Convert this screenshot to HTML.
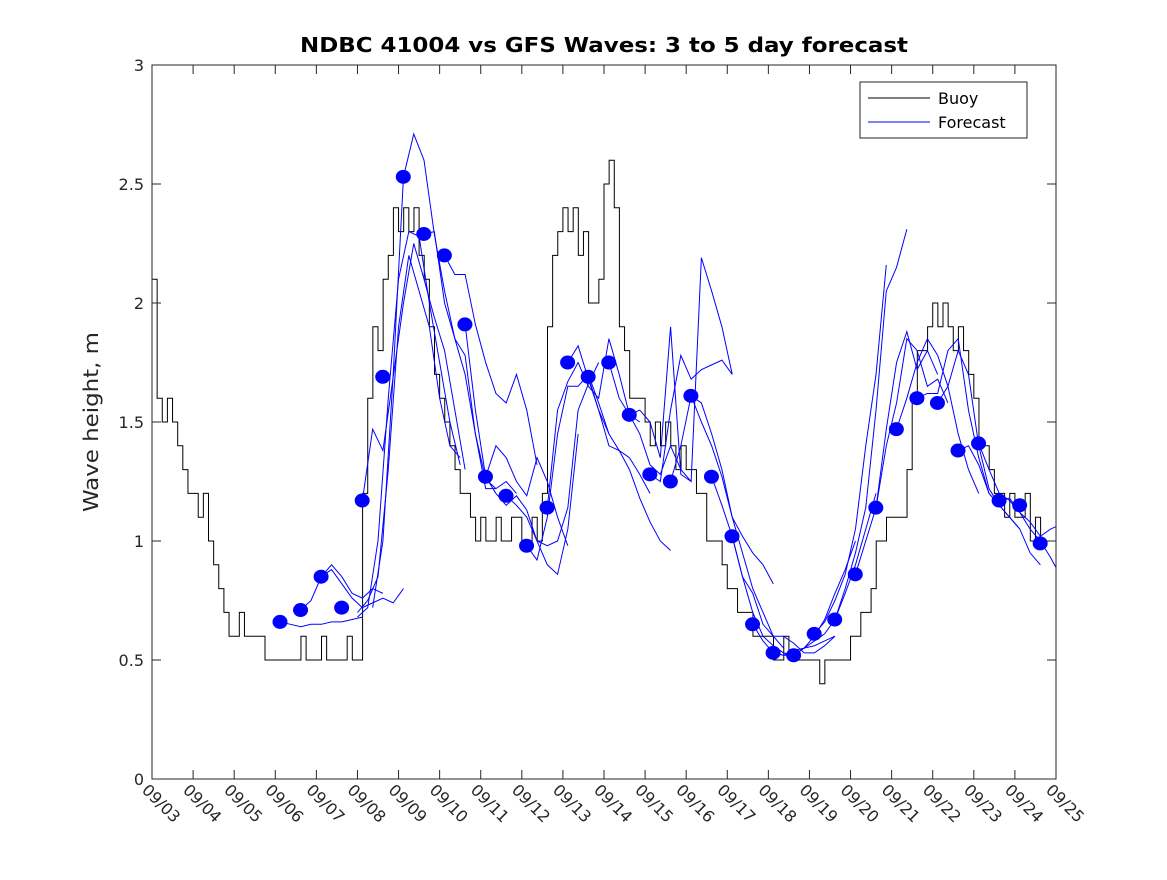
<!DOCTYPE html>
<html><head><meta charset="utf-8"><style>
body{margin:0;background:#fff;}
svg text{font-family:"DejaVu Sans","Liberation Sans",sans-serif;}
</style></head><body>
<svg id="chart" width="1167" height="875" xmlns="http://www.w3.org/2000/svg">
<rect width="1167" height="875" fill="#fff"/>
<text x="300" y="52" font-size="20" font-weight="bold" textLength="608" lengthAdjust="spacingAndGlyphs">NDBC 41004 vs GFS Waves: 3 to 5 day forecast</text>
<text transform="translate(98,422) rotate(-90)" text-anchor="middle" font-size="20" fill="#262626" textLength="180" lengthAdjust="spacingAndGlyphs">Wave height, m</text>
<defs><clipPath id="clip"><rect x="152" y="65" width="904" height="714"/></clipPath></defs>
<g id="marks" clip-path="url(#clip)"></g>
<rect x="152" y="65" width="904" height="714" fill="none" stroke="#262626" stroke-width="1"/>
<g id="axes"></g>
<g>
<rect x="860" y="82" width="167" height="56" fill="#fff" stroke="#262626"/>
<line x1="868" y1="98" x2="930" y2="98" stroke="#000"/>
<text x="938" y="104" font-size="16">Buoy</text>
<line x1="868" y1="122" x2="930" y2="122" stroke="#00f"/>
<text x="938" y="128" font-size="16">Forecast</text>
</g>
</svg>
<script>
const xTickLabels=["09/03","09/04","09/05","09/06","09/07","09/08","09/09","09/10","09/11","09/12","09/13","09/14","09/15","09/16","09/17","09/18","09/19","09/20","09/21","09/22","09/23","09/24","09/25"];
const yTicks=[0,0.5,1,1.5,2,2.5,3];
const yTickLabels=["0","0.5","1","1.5","2","2.5","3"];
// buoy values every 3h from 09/03 00:00
const buoy=[
2.1,1.6,1.5,1.6,1.5,1.4,1.3,1.2,
1.2,1.1,1.2,1.0,0.9,0.8,0.7,0.6,
0.6,0.7,0.6,0.6,0.6,0.6,0.5,0.5,
0.5,0.5,0.5,0.5,0.5,0.6,0.5,0.5,
0.5,0.6,0.5,0.5,0.5,0.5,0.6,0.5,
0.5,1.2,1.6,1.9,1.8,2.1,2.2,2.4,
2.3,2.4,2.3,2.4,2.2,2.1,1.9,1.7,
1.6,1.5,1.4,1.3,1.2,1.2,1.1,1.0,
1.1,1.0,1.0,1.1,1.0,1.0,1.1,1.1,
1.0,1.0,1.1,1.0,1.2,1.9,2.2,2.3,
2.4,2.3,2.4,2.2,2.3,2.0,2.0,2.1,
2.5,2.6,2.4,1.9,1.8,1.6,1.6,1.6,
1.5,1.4,1.5,1.4,1.5,1.4,1.3,1.4,
1.3,1.3,1.2,1.2,1.0,1.0,1.0,0.9,
0.8,0.8,0.7,0.7,0.7,0.6,0.6,0.6,
0.6,0.5,0.5,0.6,0.5,0.5,0.5,0.5,
0.5,0.5,0.4,0.5,0.5,0.5,0.5,0.5,
0.6,0.6,0.7,0.7,0.8,1.0,1.0,1.1,
1.1,1.1,1.1,1.3,1.6,1.8,1.8,1.9,
2.0,1.9,2.0,1.9,1.8,1.9,1.8,1.7,
1.6,1.4,1.4,1.3,1.2,1.2,1.1,1.2,
1.1,1.1,1.2,1.0,1.1,1.0,1.0,1.0,
1.0];
const dotDayStart=3.115;
const dotValues=[0.66,0.71,0.85,0.72,1.17,1.69,2.53,2.29,2.20,1.91,1.27,1.19,0.98,1.14,1.75,1.69,1.75,1.53,1.28,1.25,1.61,1.27,1.02,0.65,0.53,0.52,0.61,0.67,0.86,1.14,1.47,1.60,1.58,1.38,1.41,1.17,1.15,0.99];
const fcStart=[3.12,3.62,4.12,5.0,5.12,5.0,5.37,6.62,7.12,7.62,8.12,8.62,9.12,9.62,10.12,10.62,11.12,11.62,12.12,12.62,13.12,13.62,14.12,14.62,15.12,15.62,16.12,16.62,17.12,17.62,18.12,18.62,19.12,19.62,20.12,20.62];
const fcValues=[
[0.66,0.65,0.64,0.65,0.65,0.66,0.66,0.67,0.68],
[0.71,0.75,0.85,0.90,0.85,0.78,0.76,0.80,0.78],
[0.85,0.88,0.82,0.76,0.72,0.74,0.76,0.74,0.80],
[0.68,0.72,1.0,1.6,2.1,2.3,2.28,2.0,1.75,1.5,1.32],
[1.17,1.47,1.38,1.69,2.00,2.25,2.10,1.94,1.80,1.55,1.30],
[0.70,0.75,0.85,1.3,1.9,2.2,2.05,1.9,1.6,1.40,1.35],
[0.72,1.0,1.7,2.53,2.71,2.6,2.29,2.05,1.85,1.7,1.45,1.26,1.22],
[2.29,2.30,2.00,1.85,1.78,1.45,1.22,1.22,1.25,1.20],
[2.20,2.12,2.12,1.91,1.75,1.62,1.58,1.70,1.55,1.32],
[1.91,1.55,1.27,1.40,1.35,1.25,1.19,1.35,1.25,1.1,0.98],
[1.27,1.20,1.15,1.19,1.13,1.00,0.90,0.86,1.05,1.45],
[1.19,1.15,1.10,1.00,0.98,1.0,1.14,1.55,1.66,1.75],
[0.98,0.92,1.10,1.45,1.65,1.65,1.70,1.58,1.45],
[1.14,1.55,1.67,1.75,1.65,1.60,1.85,1.70,1.53,1.50],
[1.75,1.82,1.68,1.55,1.40,1.38,1.35,1.28,1.20],
[1.69,1.55,1.45,1.38,1.30,1.18,1.08,1.00,0.96],
[1.75,1.60,1.53,1.55,1.50,1.35,1.90,1.28,1.25],
[1.53,1.45,1.32,1.28,1.40,1.30,1.25,2.19,2.05,1.90,1.70],
[1.28,1.25,1.55,1.78,1.68,1.72,1.74,1.76,1.70],
[1.25,1.40,1.61,1.58,1.45,1.30,1.10,1.02,0.95,0.90,0.82],
[1.61,1.50,1.40,1.27,1.10,0.95,0.80,0.70,0.60,0.55],
[1.27,1.15,1.02,0.85,0.70,0.60,0.56,0.53,0.52],
[1.02,0.85,0.78,0.65,0.60,0.60,0.57,0.53,0.53,0.56,0.60],
[0.65,0.58,0.53,0.52,0.54,0.55,0.56,0.58,0.60],
[0.53,0.52,0.52,0.55,0.60,0.67,0.78,0.88,1.0],
[0.52,0.55,0.58,0.61,0.67,0.78,0.90,1.05,1.20],
[0.61,0.66,0.75,0.86,1.05,1.40,1.70,2.16],
[0.67,0.80,0.95,1.14,1.55,2.05,2.15,2.31],
[0.86,1.0,1.14,1.47,1.75,1.88,1.72,1.80,1.70],
[1.14,1.40,1.58,1.85,1.80,1.65,1.68,1.58],
[1.47,1.60,1.75,1.85,1.78,1.65,1.45,1.30,1.20],
[1.60,1.62,1.62,1.80,1.85,1.55,1.35,1.20,1.15],
[1.58,1.65,1.80,1.70,1.40,1.22,1.15,1.10,1.05],
[1.38,1.40,1.32,1.20,1.15,1.10,1.05,0.95,0.90],
[1.41,1.30,1.20,1.17,1.12,1.05,1.00,0.93,0.85],
[1.17,1.18,1.12,1.08,1.02,1.05,1.07,1.02,1.0]
];
const X0=152,X1=1056,Y0=779,Y1=65,DAYS=22,YMAX=3,BSTEP=0.125;
function xs(d){return X0+(X1-X0)*d/DAYS;}
function ys(v){return Y0-(Y0-Y1)*v/YMAX;}
const NS="http://www.w3.org/2000/svg";
const marks=document.getElementById('marks'),axes=document.getElementById('axes');
function mk(tag,attrs,parent){const e=document.createElementNS(NS,tag);for(const k in attrs)e.setAttribute(k,attrs[k]);parent.appendChild(e);return e;}
xTickLabels.forEach((t,i)=>{const x=xs(i);
 const a=mk('line',{x1:x,y1:Y0,x2:x,y2:Y0-9,stroke:'#262626'},axes);
 
 
 const b=mk('line',{x1:x,y1:Y1,x2:x,y2:Y1+9,stroke:'#262626'},axes);
 
 
 const tx=mk('text',{x:0,y:0,'font-size':16,fill:'#262626',transform:`translate(${x-11},${Y0+12}) rotate(45)`},axes);
 tx.textContent=t;
 
 
});
yTicks.forEach((v,i)=>{const y=ys(v);
 const a=mk('line',{x1:X0,y1:y,x2:X0+9,y2:y,stroke:'#262626'},axes);
 
 
 const b=mk('line',{x1:X1,y1:y,x2:X1-9,y2:y,stroke:'#262626'},axes);
 
 
 const tx=mk('text',{x:X0-8,y:y+6,'font-size':16,fill:'#262626','text-anchor':'end'},axes);
 tx.textContent=yTickLabels[i];
 
 
});
let p='';buoy.forEach((v,i)=>{const x=xs(i*BSTEP),y=ys(v);if(i===0)p=`M${x},${y}`;else p+=`H${x}V${y}`;});
p+=`H${xs(DAYS)}`;
const bl=mk('path',{d:p,fill:'none',stroke:'#000','stroke-width':1},marks);


fcValues.forEach((vals,k)=>{
 const pts=vals.map((v,i)=>`${xs(fcStart[k]+i*0.25)},${ys(v)}`).join(' ');
 const l=mk('polyline',{points:pts,fill:'none',stroke:'#00f','stroke-width':1},marks);
 
 
});
dotValues.forEach((v,i)=>{
 const c=mk('ellipse',{cx:xs(dotDayStart+i*0.5),cy:ys(v),rx:7.5,ry:7,fill:'#00f'},marks);
 
 
});
</script>
</body></html>
